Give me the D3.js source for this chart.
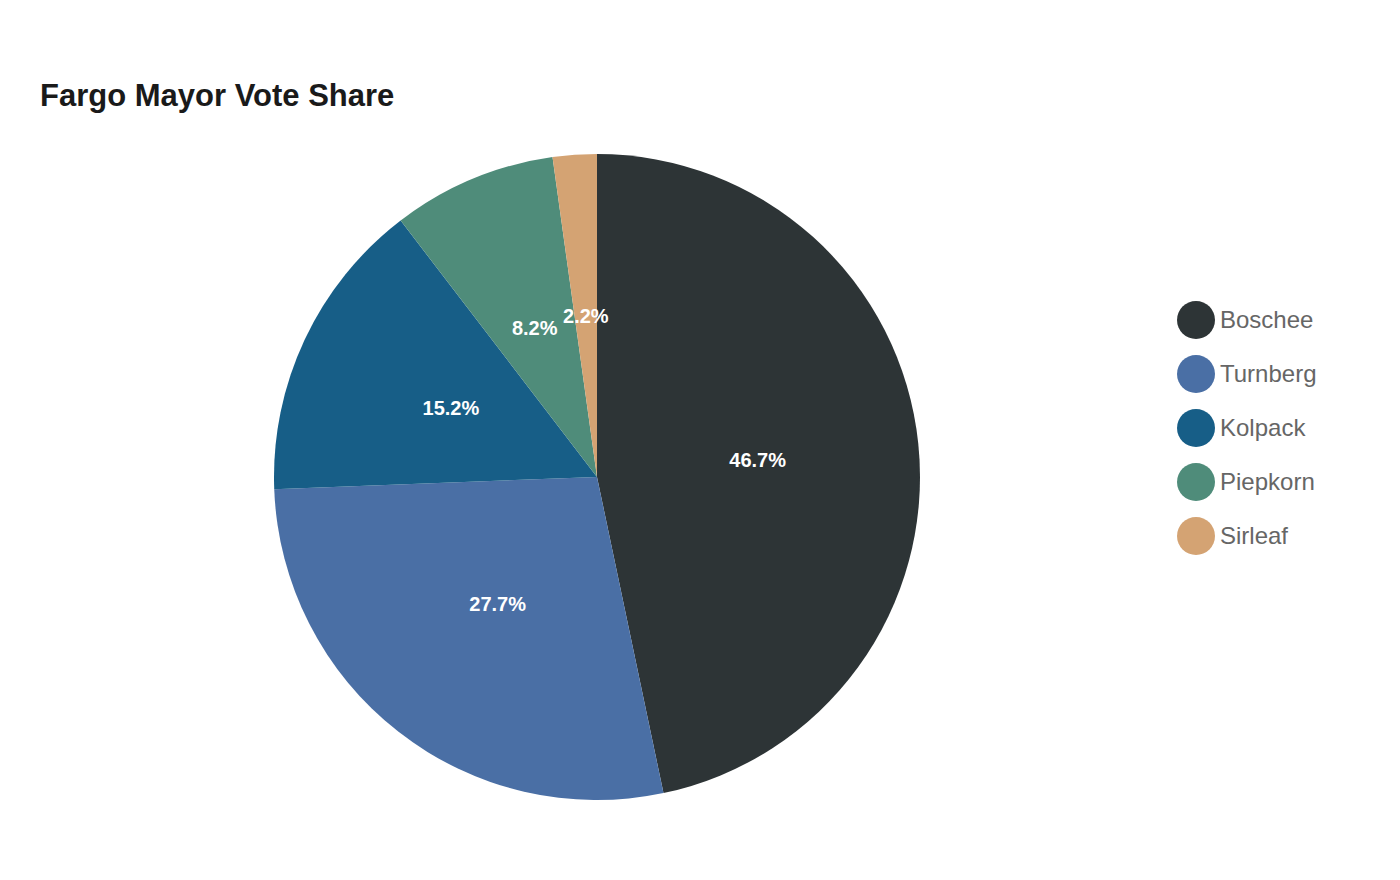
<!DOCTYPE html>
<html><head><meta charset="utf-8">
<script src="https://cdn.jsdelivr.net/npm/d3@7"></script>
<style>body{margin:0;background:#fff;font-family:"Liberation Sans",Arial,sans-serif}</style>
</head><body><svg id="c" width="1400" height="880"></svg>
<script>
const categories = ["Boschee","Turnberg","Kolpack","Piepkorn","Sirleaf"];
const shares = [46.7,27.7,15.2,8.2,2.2];
const colors = ["#2d3436","#4a6fa5","#175e87","#4f8c7a","#d4a373"];
const svg = d3.select("#c");
svg.append("text").attr("x",40).attr("y",106).attr("font-size",31).attr("font-weight","bold").attr("fill","#1a1a1a").text("Fargo Mayor Vote Share");
const cx=597, cy=477, r=323;
const pie = d3.pie().sort(null).value(d=>d)(shares);
const arc = d3.arc().innerRadius(0).outerRadius(r);
const lab = d3.arc().innerRadius(r/2).outerRadius(r/2);
const g = svg.append("g").attr("transform",`translate(${cx},${cy})`);
g.selectAll("path").data(pie).join("path").attr("d",arc).attr("fill",(d,i)=>colors[i]);
g.selectAll("text").data(pie).join("text")
 .attr("transform",d=>`translate(${lab.centroid(d)})`)
 .attr("text-anchor","middle").attr("dy","0.35em")
 .attr("font-size",20).attr("font-weight","bold").attr("fill","#fff")
 .text(d=>d.data.toFixed(1)+"%");
const y = d3.scalePoint().domain(categories).range([320,536]);
const lg = svg.append("g");
lg.selectAll("circle").data(categories).join("circle").attr("cx",1196).attr("cy",d=>y(d)).attr("r",19).attr("fill",(d,i)=>colors[i]);
lg.selectAll("text").data(categories).join("text").attr("x",1220).attr("y",d=>y(d)).attr("dy","0.35em").attr("font-size",24).attr("fill","#666").text(d=>d);
</script></body></html>
